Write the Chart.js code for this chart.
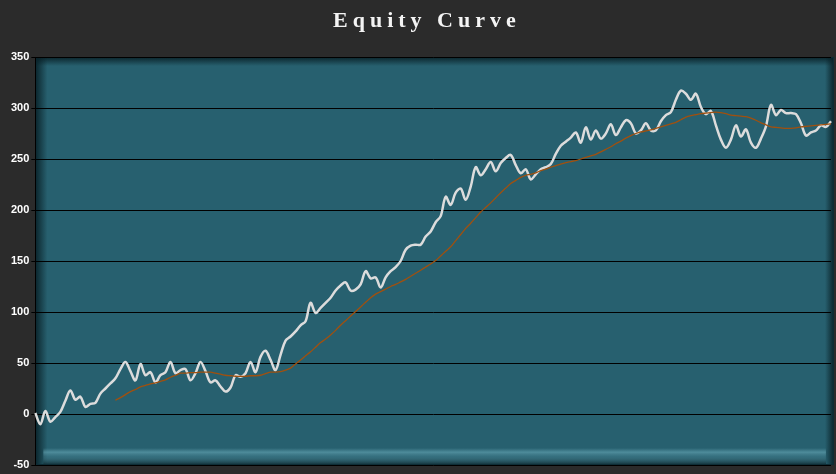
<!DOCTYPE html>
<html><head><meta charset="utf-8">
<script src="https://cdn.jsdelivr.net/npm/chart.js@4"></script>
<style>html,body{margin:0;padding:0;background:#2b2b2b;overflow:hidden}#wrap{width:836px;height:474px;position:relative}</style>
</head><body><div id="wrap"><canvas id="c"></canvas></div>
<script>
const titleText = 'Equity Curve';
const equity = [
1,-10,3,-7.5,-3,2,13,23,14,17,
7,10,11,20,25,30,35,44,51,42,
33,49,38,41,31,38,41,51,40,43,
44,33,40,51,42,31,33,27,22,26,
38,36.5,40,51,41,56,62,53,43,58,
72,76,81,87,91,109,99,104,109,114,
121,126,129,121,122,127,140,133,134,124,
134,140,144,150,161,165,166,166,174,179,
188,194,213,205,217,221,210,223,242,234,
240,247,238,246,251,254,244,236,240,230,
235,240,242,245,255,263,267,271,276,266,
281,269,278,270,275,284,273.5,281,288,285,
275,278,285,278,278,287,293,296,308,317,
314,308,314,301,294,297,283,269,261,269,
283,272,279,266,261,270,282,303,293,298,
295,295,294,285,273,276,278,283,281.5,287
];
const movingAvg = [
null,null,null,null,null,null,null,null,null,null,
null,null,null,null,null,null,
13.5,16,19,22,24,26.5,28,29.5,30.5,32,
33.5,36,38,40,40,40.5,40.5,41,41,41,
40,39,38,37.5,37,37,37,37.5,37.5,38,
39.5,41,41,41.5,43,45,49,53,57,61,
65.5,70,73.5,77.5,82,87,91.5,96,100.5,105,
109.5,114,117.5,120,122.5,125,127,129.5,132,135,
138,141,144,147,150.5,155,159.5,164,170,176,
182,187,192.5,198,202.5,207,212,217,221.5,226,
229,232,234,235,236.5,238.5,240,242,243.5,245,
246.5,247.5,248.5,250,251.5,253,254.5,257,259.5,262,
265,267.5,270.5,273,275,276.5,277.5,278.5,280,281.5,
283,284.5,286,288.5,291,292.5,293.5,294.5,295,295.5,
296,295.5,294.5,293,292.5,292,291.5,290,288,285.5,
283.5,281.5,281,280.5,280,280,280.5,281.5,282,282.5,
283,283.5,284,284.5
];
const yMin = -50, yMax = 350, yStep = 50;
const labels = equity.map((_, i) => i + 1);

const frame = {
  id: 'frame',
  beforeDraw(chart) {
    const {ctx, chartArea: a} = chart;
    const W = chart.width, H = chart.height;
    const R = W - 2;
    ctx.save();
    ctx.fillStyle = '#2b2b2b';
    ctx.fillRect(0, 0, W, H);
    ctx.fillStyle = '#27606f';
    ctx.fillRect(a.left, a.top, R - a.left, a.bottom - a.top);
    let g;
    // top shade
    g = ctx.createLinearGradient(0, a.top, 0, a.top + 9);
    g.addColorStop(0, 'rgba(8,30,36,0.9)');
    g.addColorStop(1, 'rgba(8,30,36,0)');
    ctx.fillStyle = g; ctx.fillRect(a.left, a.top, R - a.left, 9);
    // left shade
    g = ctx.createLinearGradient(a.left, 0, a.left + 12, 0);
    g.addColorStop(0, 'rgba(8,30,36,0.9)');
    g.addColorStop(1, 'rgba(8,30,36,0)');
    ctx.fillStyle = g; ctx.fillRect(a.left, a.top, 12, a.bottom - a.top);
    // bottom bevel
    g = ctx.createLinearGradient(0, a.bottom - 17, 0, a.bottom);
    g.addColorStop(0, 'rgba(110,175,190,0)');
    g.addColorStop(0.25, 'rgba(110,175,190,0.55)');
    g.addColorStop(0.5, 'rgba(80,140,155,0.35)');
    g.addColorStop(1, 'rgba(8,30,36,0.8)');
    ctx.fillStyle = g; ctx.fillRect(a.left + 8, a.bottom - 17, R - a.left - 16, 17);
    // right shade
    g = ctx.createLinearGradient(R - 9, 0, R, 0);
    g.addColorStop(0, 'rgba(8,30,36,0)');
    g.addColorStop(1, 'rgba(8,30,36,0.9)');
    ctx.fillStyle = g; ctx.fillRect(R - 9, a.top, 9, a.bottom - a.top);
    ctx.strokeStyle = '#0e2d36';
    ctx.lineWidth = 1;
    ctx.strokeRect(a.left + 0.5, a.top + 0.5, R - a.left - 1, a.bottom - a.top - 1);
    ctx.restore();
  },
  afterDraw(chart) {
    const ctx = chart.ctx;
    ctx.save();
    ctx.font = 'bold 22px "Liberation Serif"';
    ctx.fillStyle = '#f4f4f4';
    ctx.textBaseline = 'alphabetic';
    ctx.textAlign = 'left';
    ctx.letterSpacing = '5px';
    ctx.fillText(titleText, 333, 27);
    ctx.restore();
  }
};

new Chart(document.getElementById('c'), {
  type: 'line',
  data: {
    labels: labels,
    datasets: [
      {label: 'Moving average', data: movingAvg, borderColor: '#a0500f', borderWidth: 1.3,
       pointRadius: 0, tension: 0.3, fill: false, spanGaps: false},
      {label: 'Equity', data: equity, borderColor: '#dcdcdc', borderWidth: 2.5,
       pointRadius: 0, tension: 0.35, fill: false}
    ]
  },
  options: {
    responsive: true, maintainAspectRatio: false, animation: false, devicePixelRatio: 1,
    layout: {padding: {top: 57, bottom: 9, left: 9, right: 5}},
    plugins: {legend: {display: false}, title: {display: false}, tooltip: {enabled: false}},
    scales: {
      x: {type: 'category', display: false, offset: false},
      y: {
        min: yMin, max: yMax,
        ticks: {stepSize: yStep, color: '#ffffff', padding: 2,
                font: {family: '"Liberation Sans", Arial', size: 11, weight: 'bold'}},
        grid: {color: '#000000', lineWidth: 1, tickLength: 4, drawTicks: true},
        border: {color: '#000000', width: 1}
      }
    }
  },
  plugins: [frame]
});
</script>
</body></html>
